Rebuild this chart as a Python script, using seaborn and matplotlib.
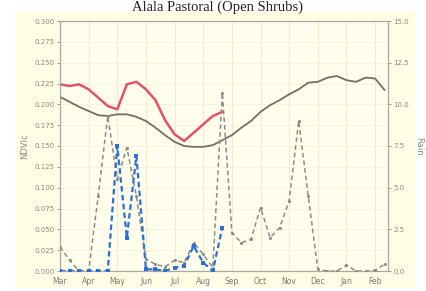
import numpy as np
import pandas as pd
import matplotlib
matplotlib.use("Agg")
import matplotlib.pyplot as plt
import seaborn as sns

# dekads from March 1 (3 per month)
dekads = list(range(35))
months = ["Mar", "Apr", "May", "Jun", "Jul", "Aug", "Sep", "Oct", "Nov", "Dec", "Jan", "Feb"]

ndvi_mean = [0.209, 0.203, 0.197, 0.192, 0.187, 0.186, 0.188, 0.188, 0.185, 0.180,
             0.172, 0.163, 0.155, 0.150, 0.149, 0.149, 0.151, 0.157, 0.163, 0.172,
             0.180, 0.191, 0.199, 0.205, 0.212, 0.218, 0.226, 0.227, 0.232, 0.234,
             0.229, 0.227, 0.232, 0.231, 0.217]
ndvi_year = [0.224, 0.222, 0.224, 0.218, 0.208, 0.198, 0.194, 0.224, 0.227, 0.218,
             0.205, 0.181, 0.164, 0.156, 0.166, 0.176, 0.186, 0.191]
rain_mean = [1.45, 0.65, 0.0, 0.0, 4.5, 9.3, 5.5, 7.4, 4.5, 0.7,
             0.4, 0.25, 0.65, 0.5, 1.7, 1.0, 0.2, 10.7, 2.3, 1.7,
             1.9, 3.8, 2.0, 2.6, 4.2, 9.0, 4.5, 0.1, 0.0, 0.0,
             0.35, 0.0, 0.0, 0.05, 0.4]
rain_year = [0.0, 0.0, 0.0, 0.0, 0.0, 0.0, 7.5, 2.0, 6.9, 0.1,
             0.1, 0.0, 0.2, 0.3, 1.5, 0.5, 0.0, 2.6]

panel = "#FFFDE4"
sns.set_style("white")

fig = plt.figure(figsize=(4.26, 2.91), dpi=100)
fig.patch.set_facecolor("white")
bg = plt.Rectangle((15 / 426, 0.01), 400 / 426, 1 - 12 / 291 - 0.01,
                   transform=fig.transFigure, facecolor=panel,
                   edgecolor="none", zorder=-10)
fig.add_artist(bg)
fig.text(0.51, 0.999, "Alala Pastoral (Open Shrubs)", ha="center", va="top",
         fontsize=10.5, family="Liberation Serif", color="#222222")

ax = fig.add_axes([60 / 426, 20 / 291, 328 / 426, 250 / 291])
ax.set_facecolor("#FFFEEC")
ax2 = ax.twinx()

sns.lineplot(x=dekads, y=ndvi_mean, ax=ax, color="#707066", linewidth=1.3, zorder=3)
sns.lineplot(x=dekads[:len(ndvi_year)], y=ndvi_year, ax=ax, color="#E4506C",
             linewidth=1.8, zorder=4)

sns.lineplot(x=dekads, y=rain_mean, ax=ax2, color="#8E8A84", linewidth=1.1,
             dashes=False, linestyle=(0, (3, 2)), marker="o", markersize=2.2,
             markeredgewidth=0, zorder=3)
sns.lineplot(x=dekads[:len(rain_year)], y=rain_year, ax=ax2, color="#2A70D6",
             linewidth=1.6, dashes=False, linestyle=(0, (2.5, 1.5)), marker="s",
             markersize=3, markeredgewidth=0, zorder=4)

ax.set_xlim(0, 34.35)
ax.set_ylim(0, 0.3)
ax2.set_ylim(0, 15)
ax.set_xticks(np.arange(0, 34, 3))
ax.set_xticklabels(months)
ax.set_yticks(np.arange(0, 0.3001, 0.025))
ax.set_yticklabels([f"{v:.3f}" for v in np.arange(0, 0.3001, 0.025)])
ax2.set_yticks(np.arange(0, 15.01, 2.5))
ax2.set_yticklabels([f"{v:.1f}" for v in np.arange(0, 15.01, 2.5)])

ax.grid(True, axis="x", color="#EDEBD2", linewidth=0.8)
ax.grid(True, axis="y", color="#F4F2DC", linewidth=0.6)
ax.set_axisbelow(True)

for a in (ax, ax2):
    for s in a.spines.values():
        s.set_color("#A8A89A")
        s.set_linewidth(0.8)
    a.tick_params(labelsize=5, colors="#8A8A80", length=2, width=0.6, pad=2)
ax.tick_params(axis="x", labelsize=5.5, colors="#7A7A70")

ax.set_ylabel("NDVIc", fontsize=6, color="#8A8A80", labelpad=4)
ax2.set_ylabel("Rain", fontsize=6, color="#8A8A80", rotation=270, labelpad=10)
ax.set_xlabel("")

fig.savefig("out.png", dpi=100, facecolor=fig.get_facecolor())
